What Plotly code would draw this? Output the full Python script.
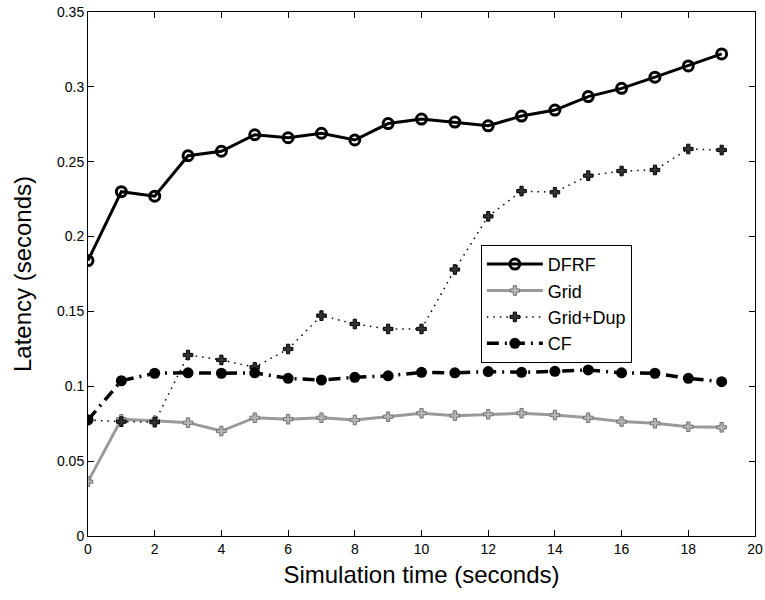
import plotly.graph_objects as go

time_s = list(range(20))
dfrf = [0.184, 0.230, 0.227, 0.254, 0.257, 0.268, 0.266, 0.269, 0.2645, 0.2755,
        0.2785, 0.2765, 0.274, 0.2805, 0.2845, 0.2935, 0.299, 0.3065, 0.314, 0.322]
grid = [0.0363, 0.078, 0.077, 0.0757, 0.0701, 0.079, 0.078, 0.079, 0.0775, 0.0797,
        0.082, 0.0804, 0.0813, 0.082, 0.0808, 0.079, 0.0764, 0.0753, 0.073, 0.0726]
grid_dup = [0.0775, 0.0764, 0.076, 0.1209, 0.1176, 0.1127, 0.1249, 0.1472, 0.1416, 0.1383,
            0.1383, 0.178, 0.2135, 0.2304, 0.2296, 0.2407, 0.2438, 0.2445, 0.2585, 0.2578]
cf = [0.0775, 0.1037, 0.1087, 0.1090, 0.1087, 0.1090, 0.1053, 0.1042, 0.106, 0.107,
      0.1093, 0.109, 0.1098, 0.1093, 0.110, 0.1109, 0.109, 0.1087, 0.1053, 0.1031]

x_ticks = list(range(0, 21, 2))
y_ticks = [0, 0.05, 0.1, 0.15, 0.2, 0.25, 0.3, 0.35]
y_ticklabels = ["0", "0.05", "0.1", "0.15", "0.2", "0.25", "0.3", "0.35"]

FONT = "Liberation Sans, Arial, Helvetica, sans-serif"

fig = go.Figure()
fig.add_trace(go.Scatter(
    x=time_s, y=dfrf, name="DFRF", mode="lines+markers",
    line=dict(color="black", width=3),
    marker=dict(symbol="circle-open", size=10, color="black", line=dict(width=3))))
fig.add_trace(go.Scatter(
    x=time_s, y=grid, name="Grid", mode="lines+markers",
    line=dict(color="#9a9a9a", width=3),
    marker=dict(symbol="cross", size=8, color="#b5b5b5", line=dict(color="#707070", width=1))))
fig.add_trace(go.Scatter(
    x=time_s, y=grid_dup, name="Grid+Dup", mode="lines+markers",
    line=dict(color="black", width=1.5, dash="1.5px,5px"),
    marker=dict(symbol="cross", size=8, color="#333333", line=dict(color="#000000", width=1))))
fig.add_trace(go.Scatter(
    x=time_s, y=cf, name="CF", mode="lines+markers",
    line=dict(color="black", width=3.5, dash="12px,6px,2px,6px"),
    marker=dict(symbol="circle", size=11, color="black")))

axis_common = dict(
    showline=True, linecolor="black", linewidth=1, mirror="ticks",
    ticks="inside", ticklen=6, tickcolor="black", showgrid=False, zeroline=False,
    automargin=False,
    tickfont=dict(family=FONT, size=14, color="black"),
)

fig.update_layout(
    width=765, height=600,
    margin=dict(l=88, r=10, t=12, b=64),
    paper_bgcolor="white", plot_bgcolor="white",
    font=dict(family=FONT, color="black"),
    xaxis=dict(range=[0, 20], tickvals=x_ticks,
               title=dict(text="Simulation time (seconds)", font=dict(size=24), standoff=10),
               **axis_common),
    yaxis=dict(range=[0, 0.35], tickvals=y_ticks, ticktext=y_ticklabels,
               title=dict(text="Latency (seconds)", font=dict(size=24), standoff=18),
               **axis_common),
    legend=dict(x=0.589, y=0.5555, xanchor="left", yanchor="top",
                bordercolor="black", borderwidth=1, bgcolor="white",
                font=dict(size=18), tracegroupgap=0, itemwidth=56),
    showlegend=True,
)

fig.write_html("out.html")
